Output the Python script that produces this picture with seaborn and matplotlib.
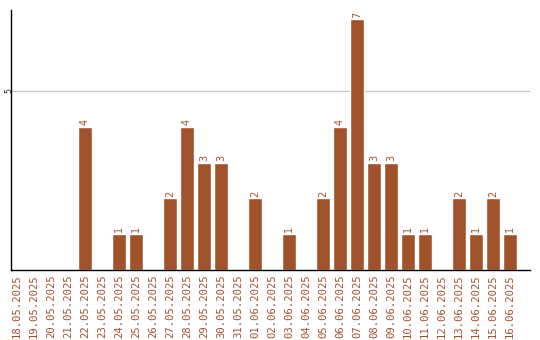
import matplotlib
matplotlib.use("Agg")
import matplotlib.pyplot as plt
import seaborn as sns
import pandas as pd

dates = ["18.05.2025", "19.05.2025", "20.05.2025", "21.05.2025", "22.05.2025",
         "23.05.2025", "24.05.2025", "25.05.2025", "26.05.2025", "27.05.2025",
         "28.05.2025", "29.05.2025", "30.05.2025", "31.05.2025", "01.06.2025",
         "02.06.2025", "03.06.2025", "04.06.2025", "05.06.2025", "06.06.2025",
         "07.06.2025", "08.06.2025", "09.06.2025", "10.06.2025", "11.06.2025",
         "12.06.2025", "13.06.2025", "14.06.2025", "15.06.2025", "16.06.2025"]
values = [0, 0, 0, 0, 4, 0, 1, 1, 0, 2, 4, 3, 3, 0, 2, 0, 1, 0, 2, 4,
          7, 3, 3, 1, 1, 0, 2, 1, 2, 1]

color = "#A0522D"
df = pd.DataFrame({"date": dates, "value": values})

sns.set_style("white")
fig = plt.figure(figsize=(5.4, 3.4), dpi=100)
ax = fig.add_axes([11 / 540, 70 / 340, 519 / 540, 260 / 340])
sns.barplot(data=df, x="date", y="value", color=color, saturation=1,
            width=0.82, ax=ax)
ax.set_ylim(0, 7.26)
ax.set_xlim(-0.353, 30.18)
ax.set_yticks([5])
ax.set_yticklabels(["5"], rotation=90, va="center", ha="center", fontsize=6,
                   family="DejaVu Sans Mono")
ax.yaxis.grid(True, color="#c8c8c8", linewidth=1)
ax.set_axisbelow(True)
ax.tick_params(axis="x", length=0, pad=3)
ax.tick_params(axis="y", length=0, pad=1.5)
ax.set_xticks(range(len(dates)))
ax.set_xticklabels(dates, rotation=90, fontsize=7.6, color=color,
                   family="DejaVu Sans Mono", va="top", ha="center")
ax.set_xlabel("")
ax.set_ylabel("")
for s in ["top", "right"]:
    ax.spines[s].set_visible(False)
for s in ["left", "bottom"]:
    ax.spines[s].set_color("black")
    ax.spines[s].set_linewidth(1)

for i, v in enumerate(values):
    if v > 0:
        ax.text(i, v + 0.05, str(v), rotation=90, ha="center", va="bottom",
                fontsize=7, color=color, family="DejaVu Sans")

fig.savefig("out.png", dpi=100)
